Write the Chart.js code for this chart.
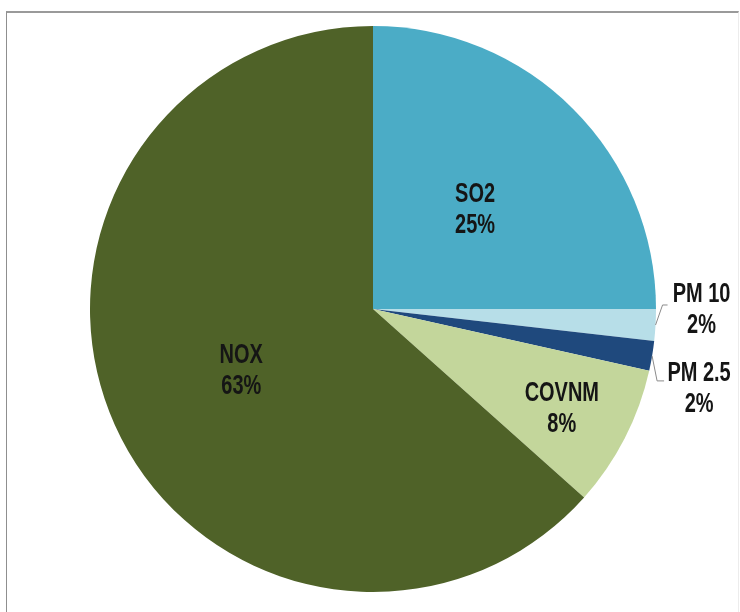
<!DOCTYPE html>
<html>
<head>
<meta charset="utf-8">
<script src="https://cdn.jsdelivr.net/npm/chart.js@4/dist/chart.umd.min.js"></script>
<style>
  html, body { margin: 0; padding: 0; background: #fff; overflow: hidden; }
  #wrap { position: relative; width: 740px; height: 612px; overflow: hidden; }
  #frame { position: absolute; left: 6px; top: 11px; width: 733px; height: 800px;
           border-left: 1px solid #8f8f8f; border-top: 2px solid #9a9a9a;
           border-right: 1px solid #ececec; box-sizing: border-box; }
  canvas { position: absolute; left: 0; top: 0; }
</style>
</head>
<body>
<div id="wrap">
  <div id="frame"></div>
  <canvas id="c" width="740" height="612"></canvas>
</div>
<script>
// Emission shares by pollutant (%)
const categories = ['SO2', 'PM 10', 'PM 2.5', 'COVNM', 'NOX'];
const shares = [25.0, 1.8, 1.7, 8.1, 63.4];
const sliceColors = ['#4BACC6', '#B7DEE8', '#1F497D', '#C3D69B', '#4F6228'];

const FONT = '"Liberation Sans", Arial, sans-serif';
const NARROW = 0.74; // horizontal squeeze for a condensed look

// Label placement per slice: inside labels sit along the mid-angle,
// outside labels get a small bent leader line.
const labelPlacement = [
  { mode: 'in', r: 0.51 },
  { mode: 'out', elbow: [7, -20], end: [12, -20], text: [46, -18] },
  { mode: 'out', elbow: [5, 25], end: [12, 25], text: [47, 30] },
  { mode: 'in', r: 0.75 },
  { mode: 'in', r: 0.51 }
];

function condensedText(ctx, str, x, y) {
  ctx.save();
  ctx.translate(x, y);
  ctx.scale(NARROW, 1);
  ctx.fillText(str, 0, 0);
  ctx.restore();
}

const pieLabels = {
  id: 'pieLabels',
  afterDatasetsDraw(chart) {
    const ctx = chart.ctx;
    const meta = chart.getDatasetMeta(0);
    const data = chart.data.datasets[0].data;
    const total = data.reduce((a, b) => a + b, 0);
    ctx.save();
    ctx.font = 'bold 27px ' + FONT;
    ctx.fillStyle = '#151515';
    ctx.textAlign = 'center';
    ctx.textBaseline = 'middle';
    meta.data.forEach((arc, i) => {
      const p = arc.getProps(['x', 'y', 'startAngle', 'endAngle', 'outerRadius'], true);
      const mid = (p.startAngle + p.endAngle) / 2;
      const pct = Math.round(data[i] / total * 100) + '%';
      const cfg = labelPlacement[i];
      const lineGap = 31;
      let tx, ty;
      if (cfg.mode === 'in') {
        tx = p.x + Math.cos(mid) * p.outerRadius * cfg.r;
        ty = p.y + Math.sin(mid) * p.outerRadius * cfg.r;
      } else {
        const ax = p.x + Math.cos(mid) * p.outerRadius;
        const ay = p.y + Math.sin(mid) * p.outerRadius;
        ctx.save();
        ctx.strokeStyle = '#8a8a8a';
        ctx.lineWidth = 1;
        ctx.beginPath();
        ctx.moveTo(ax, ay);
        ctx.lineTo(ax + cfg.elbow[0], ay + cfg.elbow[1]);
        ctx.lineTo(ax + cfg.end[0], ay + cfg.end[1]);
        ctx.stroke();
        ctx.restore();
        tx = ax + cfg.text[0];
        ty = ay + cfg.text[1];
      }
      ty += 3; // optical centring of the cap-height glyphs
      condensedText(ctx, chart.data.labels[i], tx, ty - lineGap / 2);
      condensedText(ctx, pct, tx, ty + lineGap / 2);
    });
    ctx.restore();
  }
};

new Chart(document.getElementById('c'), {
  type: 'pie',
  data: {
    labels: categories,
    datasets: [{
      data: shares,
      backgroundColor: sliceColors,
      borderColor: sliceColors,
      borderWidth: 0
    }]
  },
  options: {
    responsive: false,
    animation: false,
    layout: { padding: { left: 90, right: 84, top: 26, bottom: 20 } },
    plugins: {
      legend: { display: false },
      tooltip: { enabled: false }
    }
  },
  plugins: [pieLabels]
});
</script>
</body>
</html>
